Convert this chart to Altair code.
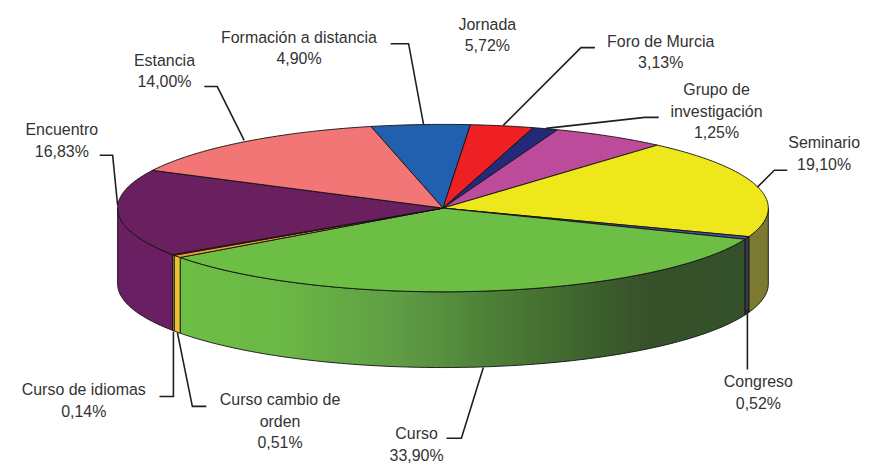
import math
import altair as alt
import pandas as pd

# ---- data, clockwise from the slice at the top ----
NAMES = ["Formación a distancia", "Foro de Murcia", "Grupo de investigación", "Jornada", "Seminario",
         "Congreso", "Curso", "Curso cambio de orden", "Curso de idiomas", "Encuentro", "Estancia"]
SHARES = [4.90, 3.13, 1.25, 5.72, 19.10, 0.52, 33.90, 0.51, 0.14, 16.83, 14.00]
TOP_COLORS = ["#2160ae", "#ee2024", "#232a78", "#bc4b9b", "#ede71c", "#4f4fa8", "#6dbe45",
              "#f0a030", "#e8c030", "#6a1f5f", "#f37677"]
WALL_COLORS = ["#2160ae", "#ee2024", "#232a78", "#bc4b9b", "#7b7a30", "#3a3a52", None,
               "#e8c030", "#c9a030", "#6a1f62", "#f37677"]
CURSO_STOPS = [(0, "#6dbe45"), (0.18, "#6bb845"), (0.39, "#5f9c45"), (0.53, "#4f8338"),
               (0.67, "#426b30"), (0.82, "#37522a"), (1, "#34502a")]

# ---- layout ----
CX, CY, RX, RY, DEPTH = 444.5, 208, 326.5, 84, 76
START = 102.8
LABELS = [
    (["Formación a distancia", "4,90%"], 300, 37),
    (["Jornada", "5,72%"], 489, 24),
    (["Foro de Murcia", "3,13%"], 663, 41),
    (["Grupo de", "investigación", "1,25%"], 719, 90),
    (["Seminario", "19,10%"], 827, 143),
    (["Congreso", "0,52%"], 761, 383),
    (["Curso", "33,90%"], 418, 435),
    (["Curso cambio de", "orden", "0,51%"], 281, 401),
    (["Curso de idiomas", "0,14%"], 84, 391),
    (["Encuentro", "16,83%"], 62, 130),
    (["Estancia", "14,00%"], 165, 60),
]
LEADERS = [
    [(392, 43), (410, 43), (425, 124)],
    [(597, 47), (583, 47), (505, 125)],
    [(661, 117), (647, 117), (548, 128)],
    [(790, 170), (777, 170), (760, 187)],
    [(750, 310), (750, 370)],
    [(448, 439), (463, 439), (485, 368)],
    [(207, 407), (193, 407), (178, 333)],
    [(160, 397), (174, 397), (174, 332)],
    [(100, 155), (113, 155), (118, 205)],
    [(205, 86), (218, 86), (245, 140)],
]
LINE_STEP = 21.5

X = alt.X("x:Q", scale=alt.Scale(domain=[8, 861], nice=False, zero=False), axis=None)
Y = alt.Y("y:Q", scale=alt.Scale(domain=[464, 8], nice=False, zero=False), axis=None)


def rim(a, dy=0.0):
    t = math.radians(a)
    return CX + RX * math.cos(t), CY - RY * math.sin(t) + dy


def arc(a0, a1, dy=0.0):
    n = max(2, int(abs(a1 - a0)) + 2)
    return [rim(a0 + (a1 - a0) * k / (n - 1), dy) for k in range(n)]


def shape(points, fill, stroke="#111111", width=0.9):
    df = pd.DataFrame(points, columns=["x", "y"])
    df["i"] = range(len(df))
    return alt.Chart(df).mark_line(fill=fill, stroke=stroke, strokeWidth=width, interpolate="linear").encode(
        x=X, y=Y, order=alt.Order("i:Q"))


walls, tops = [], []
angle = START
for name, share, top, wall in zip(NAMES, SHARES, TOP_COLORS, WALL_COLORS):
    a0 = angle
    a1 = angle - share * 3.6
    angle = a1
    pts = [(CX, CY)] + arc(a0, a1) + [(CX, CY)]
    tops.append(shape(pts, top))
    # only the part of the rim that faces the viewer has a wall
    lo, hi = None, None
    for base in (0, -360):
        h = min(a0 + base, 0)
        l = max(a1 + base, -180)
        if h > l:
            lo, hi = l, h
    if lo is None:
        continue
    front = arc(hi, lo)
    back = arc(lo, hi, DEPTH)
    fill = wall
    if wall is None:
        fill = alt.Gradient(gradient="linear", x1=0, y1=0, x2=1, y2=0,
                            stops=[alt.GradientStop(offset=o, color=c) for o, c in CURSO_STOPS])
    walls.append(shape(front + back + front[:1], fill))

leader_rows = []
for k, pts in enumerate(LEADERS):
    for i, (x, y) in enumerate(pts):
        leader_rows.append({"x": x, "y": y, "k": k, "i": i})
leaders = alt.Chart(pd.DataFrame(leader_rows)).mark_line(stroke="#231f20", strokeWidth=1.6).encode(
    x=X, y=Y, detail="k:N", order=alt.Order("i:Q"))

text_rows = []
for lines, x, y in LABELS:
    for i, line in enumerate(lines):
        text_rows.append({"x": x, "y": y + i * LINE_STEP, "t": line})
texts = alt.Chart(pd.DataFrame(text_rows)).mark_text(
    font="Liberation Sans", fontSize=16, color="#333333", align="center", baseline="middle"
).encode(x=X, y=Y, text="t:N")

chart = alt.layer(*walls, *tops, leaders, texts).properties(
    width=853, height=456, padding=0, background="white"
).configure_view(stroke=None)

chart.save("out.html", embed_options={"renderer": "svg", "actions": False})
